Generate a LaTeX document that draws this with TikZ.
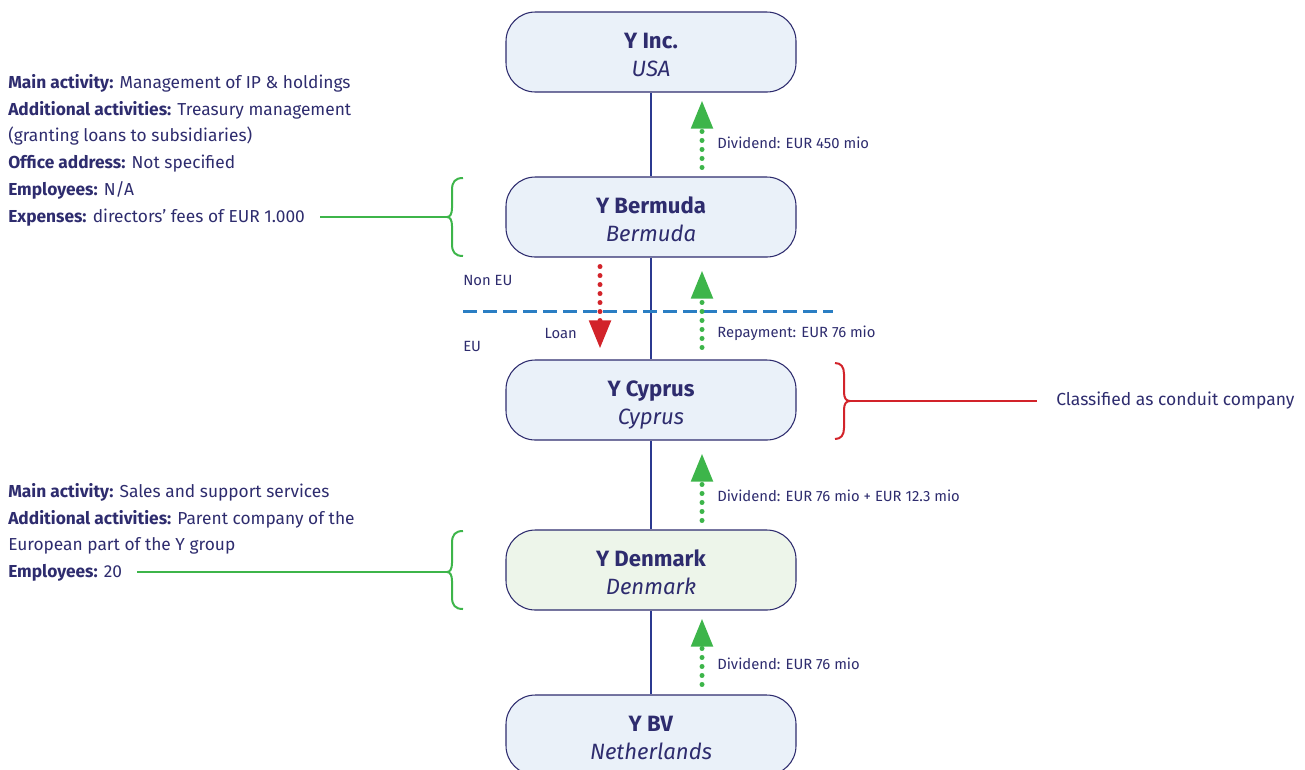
\documentclass[tikz,border=0pt]{standalone}
\usepackage{fontspec}
\setmainfont{Fira Sans}
\usetikzlibrary{arrows.meta,calc}
\definecolor{navytext}{HTML}{2E2C6E}
\definecolor{navyline}{HTML}{2B3990}
\definecolor{boxblue}{HTML}{EAF1F9}
\definecolor{boxgreen}{HTML}{EDF5EA}
\definecolor{divgreen}{HTML}{3DB54A}
\definecolor{loanred}{HTML}{D2232A}
\definecolor{eublue}{HTML}{2A7EC3}

\begin{document}
\begin{tikzpicture}[x=0.75pt,y=-0.75pt,
		company/.style={draw=navytext,line width=0.8pt,fill=boxblue,rounded corners=22pt,
			minimum width=217.5pt,minimum height=60pt,inner sep=0pt,align=center,
			text height=40pt,text depth=4pt,
			text=navytext,font=\fontsize{16.6}{21}\selectfont},
		info/.style={inner sep=0pt,align=left,text=navytext,font=\fontsize{13}{20.1}\selectfont},
		lbl/.style={inner sep=0pt,text=navytext,font=\fontsize{11.1}{13}\selectfont},
		ownline/.style={navyline,line width=1.8pt},
		divarrow/.style={divgreen,line width=3.75pt,line cap=round,dash pattern=on 0pt off 6.75pt,
			-{Triangle[length=21pt,width=15.75pt]}},
		loanarrow/.style={loanred,line width=3.75pt,line cap=round,dash pattern=on 0pt off 6.75pt,
			-{Triangle[length=21pt,width=15.75pt]}},
		eudash/.style={eublue,line width=2.25pt,dash pattern=on 10.5pt off 4.5pt},
		greenbrace/.style={divgreen,line width=1.5pt},
		redbrace/.style={loanred,line width=1.5pt}]
	\useasboundingbox (0,0) rectangle (1305,769);
	
	% companies
	\node[company] (inc) at (651,52) {\textbf{Y Inc.}\\\textit{USA}};
	\node[company] (bermuda) at (651,217) {\textbf{Y Bermuda}\\\textit{Bermuda}};
	\node[company] (cyprus) at (651,400) {\textbf{Y Cyprus}\\\textit{Cyprus}};
	\node[company,fill=boxgreen] (denmark) at (651,570) {\textbf{Y Denmark}\\\textit{Denmark}};
	\node[company] (bv) at (651,735) {\textbf{Y BV}\\\textit{Netherlands}};
	
	\draw[ownline] (inc) -- (bermuda);
	\draw[ownline] (bermuda) -- (cyprus);
	\draw[ownline] (cyprus) -- (denmark);
	\draw[ownline] (denmark) -- (bv);
	
	% EU border
	\coordinate (euL) at (463,311);
	\coordinate (euR) at (833,311);
	\draw[eudash] (euL) -- (euR);
	\node[lbl,anchor=west] (noneu) at (463,280) {Non EU};
	\node[lbl,anchor=west] (eu) at (463,346) {EU};
	
	% payments
	\draw[divarrow] ($(bermuda.north)+(51,-9)$) -- ($(inc.south)+(51,8)$);
	\draw[loanarrow] ($(bermuda.south)+(-51,9)$) -- ($(cyprus.north)+(-51,-11)$);
	\draw[divarrow] ($(cyprus.north)+(51,-12)$) -- ($(bermuda.south)+(51,13)$);
	\draw[divarrow] ($(denmark.north)+(51,-9)$) -- ($(cyprus.south)+(51,13)$);
	\draw[divarrow] ($(bv.north)+(51,-10)$) -- ($(denmark.south)+(51,8)$);
	
	\node[lbl,anchor=west] (divone) at (717,143) {Dividend: EUR 450 mio};
	\node[lbl,anchor=east] (loan) at (577,333) {Loan};
	\node[lbl,anchor=west] (repay) at (717,333) {Repayment: EUR 76 mio};
	\node[lbl,anchor=west] (divtwo) at (717,496) {Dividend: EUR 76 mio + EUR 12.3 mio};
	\node[lbl,anchor=west] (divthree) at (717,664) {Dividend: EUR 76 mio};
	
	% Bermuda facts
	\node[info,anchor=north west] (berminfo) at (8,74) {\textbf{Main activity:} Management of IP \& holdings\\
		\textbf{Additional activities:} Treasury management\\
		(granting loans to subsidiaries)\\
		\textbf{Office address:} Not specified\\
		\textbf{Employees:} N/A\\
		\textbf{Expenses:} directors’ fees of EUR 1.000};
	\coordinate (bermText) at (320,217);
	\coordinate (bermTip) at (447,217);
	\draw[greenbrace] (463,178) .. controls (455,178) and (452,182) .. (452,190) -- (452,208)
		.. controls (452,214) and (450,217) .. (bermTip) .. controls (450,217) and (452,220) .. (452,226)
		-- (452,244) .. controls (452,252) and (455,256) .. (463,256);
	\draw[greenbrace] (bermText) -- (bermTip);
	
	% Denmark facts
	\node[info,anchor=north west] (deninfo) at (8,483) {\textbf{Main activity:} Sales and support services\\
		\textbf{Additional activities:} Parent company of the\\
		European part of the Y group\\
		\textbf{Employees:} 20};
	\coordinate (denText) at (137,572);
	\coordinate (denTip) at (447,572);
	\draw[greenbrace] (463,531) .. controls (455,531) and (452,535) .. (452,543) -- (452,563)
		.. controls (452,569) and (450,572) .. (denTip) .. controls (450,572) and (452,575) .. (452,581)
		-- (452,597) .. controls (452,605) and (455,609) .. (463,609);
	\draw[greenbrace] (denText) -- (denTip);
	
	% conduit
	\coordinate (cypTip) at (850,401);
	\coordinate (cypEnd) at (1037,401);
	\draw[redbrace] (835,363) .. controls (841,363) and (844,367) .. (844,374) -- (844,392)
		.. controls (844,398) and (846,401) .. (cypTip) .. controls (846,401) and (844,404) .. (844,410)
		-- (844,428) .. controls (844,435) and (841,439) .. (835,439);
	\draw[redbrace] (cypTip) -- (cypEnd);
	\node[lbl,anchor=west,font=\fontsize{13.1}{15}\selectfont] (conduit) at (1056,401) {Classified as conduit company};
\end{tikzpicture}
\end{document}
